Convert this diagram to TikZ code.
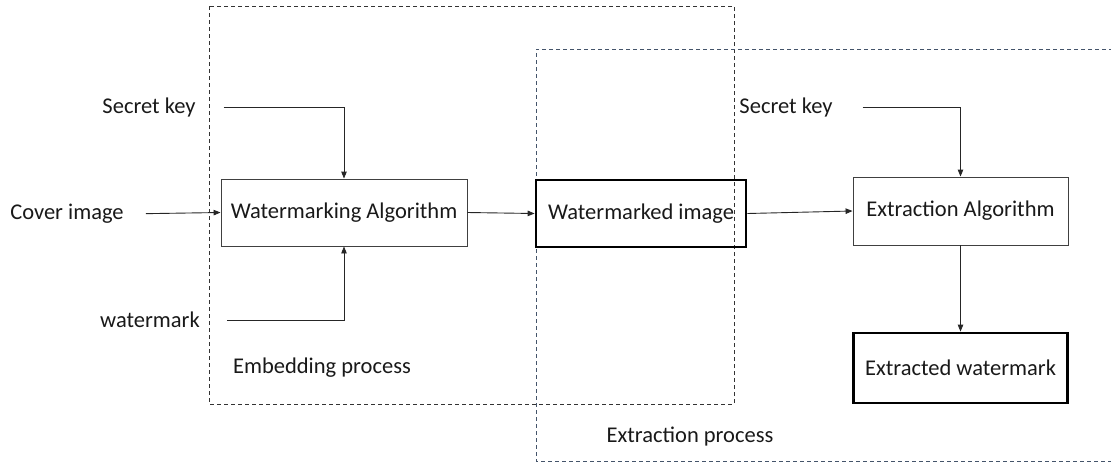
\documentclass[tikz,border=0pt]{standalone}
\usepackage{fontspec}
\setmainfont{Carlito}
\usetikzlibrary{arrows.meta}
\definecolor{extblue}{HTML}{44546A}
\begin{document}
\begin{tikzpicture}[x=1pt,y=-1pt,
  every node/.style={font=\fontsize{22.5}{26}\selectfont, inner sep=0pt, text=black!90},
  blk/.style={draw=black!75, line width=0.9pt, minimum width=#1, minimum height=67pt},
  thickblk/.style={draw=black, line width=2.8pt, minimum width=#1, minimum height=67pt},
  lbl/.style={},
  arr/.style={draw=black!85, line width=0.9pt, -{Triangle[length=7pt,width=5.5pt]}},
  region/.style={dash pattern=on 4pt off 3pt, line width=0.8pt}
]
\useasboundingbox (0,0) rectangle (1111,464);
% dashed regions
\draw[region, draw=black!80] (209,6) rectangle (734,404);
\draw[region, draw=extblue] (1120,49) -- (536,49) -- (536,461) -- (1120,461);
% boxes
\node[blk=246pt] (wa) at (344,212.5) {Watermarking Algorithm};
\node[thickblk=210pt] (wi) at (641,213.5) {Watermarked image};
\node[blk=215pt, minimum height=68pt] (ea) at (960.5,211) {Extraction Algorithm};
\node[thickblk=214pt, minimum height=70pt] (ew) at (960.5,368) {Extracted watermark};
% labels
\node[lbl] (sk1) at (149,107) {Secret key};
\node[lbl] (cover) at (67,214) {Cover image};
\node[lbl] (wm) at (150,320) {watermark};
\node[lbl] (sk2) at (786,107) {Secret key};
\node[lbl] (embedlbl) at (322,368) {Embedding process};
\node[lbl] (extlbl) at (690,437) {Extraction process};
% connectors
\draw[arr, shorten <=28pt] (sk1.east) -| (wa.north);
\draw[arr, shorten <=22pt] (cover.east) -- (wa.west);
\draw[arr, shorten <=27pt] (wm.east) -| (wa.south);
\draw[arr] (wa.east) -- (wi.west);
\draw[arr] (wi.east) -- (ea.west);
\draw[arr, shorten <=30pt] (sk2.east) -| (ea.north);
\draw[arr] (ea.south) -- (ew.north);
\end{tikzpicture}
\end{document}
